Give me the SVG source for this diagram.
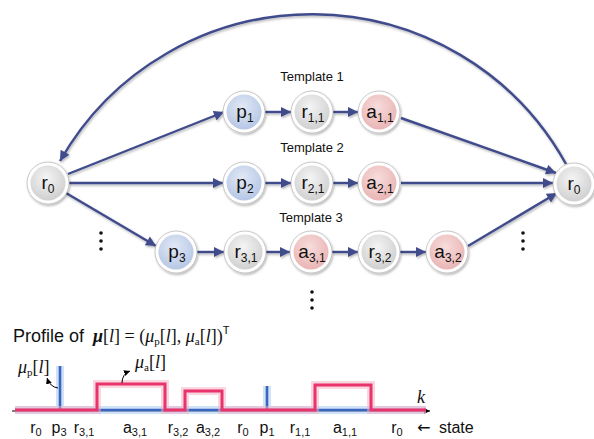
<svg xmlns="http://www.w3.org/2000/svg" width="594" height="439" viewBox="0 0 594 439">
<defs>
<radialGradient id="gGray" cx="0.45" cy="0.35" r="0.7">
<stop offset="0" stop-color="#F4F4F4"/><stop offset="1" stop-color="#CDCDCD"/></radialGradient>
<radialGradient id="gBlue" cx="0.45" cy="0.35" r="0.7">
<stop offset="0" stop-color="#E2E9F5"/><stop offset="1" stop-color="#B2C4E4"/></radialGradient>
<radialGradient id="gPink" cx="0.45" cy="0.35" r="0.7">
<stop offset="0" stop-color="#F8DCDC"/><stop offset="1" stop-color="#E8B2B2"/></radialGradient>
<filter id="sh" x="-20%" y="-20%" width="140%" height="140%">
<feDropShadow dx="1" dy="1.5" stdDeviation="1.2" flood-color="#000" flood-opacity="0.3"/></filter>
<marker id="ah" viewBox="0 0 10 10" refX="10" refY="5" markerWidth="11" markerHeight="10" markerUnits="userSpaceOnUse" orient="auto">
<path d="M0,0 L10,5 L0,10 Z" fill="#404B8C"/></marker>
<marker id="ak" viewBox="0 0 10 10" refX="10" refY="5" markerWidth="6" markerHeight="6" markerUnits="userSpaceOnUse" orient="auto">
<path d="M0,0 L10,5 L0,10 Z" fill="#000"/></marker>
</defs>
<style>
.e{fill:none;stroke:#404B8C;stroke-width:2.4;marker-end:url(#ah)}
.ring{fill:#fff;stroke:#BBBBBB;stroke-width:0.8}
.g{fill:url(#gGray)}.b{fill:url(#gBlue)}.p{fill:url(#gPink)}
.nt{font-family:"Liberation Sans",Arial,sans-serif;font-size:19px;fill:#111;text-anchor:middle}
.sub{font-size:12px}
.tl{font-family:"Liberation Sans",Arial,sans-serif;font-size:13px;fill:#111;text-anchor:middle}
.st{font-family:"Liberation Sans",Arial,sans-serif;font-size:16px;fill:#111;text-anchor:middle}
.ss{font-size:11px}
.m{font-family:"Liberation Serif","Times New Roman",serif;font-size:18px;fill:#111}
.dot{fill:#111}
</style>
<rect width="594" height="439" fill="#fff"/>

<g id="connectors" filter="url(#sh)">
<path class="e" d="M566 164 A290 290 0 0 0 60 161"/>
<path class="e" d="M68 174 L224 112"/>
<path class="e" d="M69 183 L223 183"/>
<path class="e" d="M66 193 L156 246"/>
<path class="e" d="M265 112 L291 112"/>
<path class="e" d="M333 112 L358 112"/>
<path class="e" d="M401 118 L556 173"/>
<path class="e" d="M265 183 L291 183"/>
<path class="e" d="M333 183 L358 183"/>
<path class="e" d="M401 183 L553 183"/>
<path class="e" d="M197 252 L224 252"/>
<path class="e" d="M266 252 L290 252"/>
<path class="e" d="M332 252 L358 252"/>
<path class="e" d="M400 252 L426 252"/>
<path class="e" d="M468 246 L557 193"/>
</g>

<g id="n_r0L"><circle class="ring" cx="48" cy="183" r="21" filter="url(#sh)"/><circle class="g" cx="48" cy="183" r="17.5"/><text class="nt" x="48" y="189">r<tspan class="sub" dy="4">0</tspan></text></g>
<g id="n_p1"><circle class="ring" cx="244" cy="112" r="21" filter="url(#sh)"/><circle class="b" cx="244" cy="112" r="17.5"/><text class="nt" x="245" y="118">p<tspan class="sub" dy="4">1</tspan></text></g>
<g id="n_r11"><circle class="ring" cx="312" cy="112" r="21" filter="url(#sh)"/><circle class="g" cx="312" cy="112" r="17.5"/><text class="nt" x="313" y="118">r<tspan class="sub" dy="4">1,1</tspan></text></g>
<g id="n_a11"><circle class="ring" cx="379" cy="112" r="21" filter="url(#sh)"/><circle class="p" cx="379" cy="112" r="17.5"/><text class="nt" x="380" y="118">a<tspan class="sub" dy="4">1,1</tspan></text></g>
<g id="n_p2"><circle class="ring" cx="244" cy="183" r="21" filter="url(#sh)"/><circle class="b" cx="244" cy="183" r="17.5"/><text class="nt" x="245" y="189">p<tspan class="sub" dy="4">2</tspan></text></g>
<g id="n_r21"><circle class="ring" cx="312" cy="183" r="21" filter="url(#sh)"/><circle class="g" cx="312" cy="183" r="17.5"/><text class="nt" x="313" y="189">r<tspan class="sub" dy="4">2,1</tspan></text></g>
<g id="n_a21"><circle class="ring" cx="379" cy="183" r="21" filter="url(#sh)"/><circle class="p" cx="379" cy="183" r="17.5"/><text class="nt" x="380" y="189">a<tspan class="sub" dy="4">2,1</tspan></text></g>
<g id="n_r0R"><circle class="ring" cx="574" cy="184" r="21" filter="url(#sh)"/><circle class="g" cx="574" cy="184" r="17.5"/><text class="nt" x="574" y="190">r<tspan class="sub" dy="4">0</tspan></text></g>
<g id="n_p3"><circle class="ring" cx="176" cy="252" r="21" filter="url(#sh)"/><circle class="b" cx="176" cy="252" r="17.5"/><text class="nt" x="177" y="258">p<tspan class="sub" dy="4">3</tspan></text></g>
<g id="n_r31"><circle class="ring" cx="245" cy="252" r="21" filter="url(#sh)"/><circle class="g" cx="245" cy="252" r="17.5"/><text class="nt" x="246" y="258">r<tspan class="sub" dy="4">3,1</tspan></text></g>
<g id="n_a31"><circle class="ring" cx="311" cy="252" r="21" filter="url(#sh)"/><circle class="p" cx="311" cy="252" r="17.5"/><text class="nt" x="312" y="258">a<tspan class="sub" dy="4">3,1</tspan></text></g>
<g id="n_r32"><circle class="ring" cx="379" cy="252" r="21" filter="url(#sh)"/><circle class="g" cx="379" cy="252" r="17.5"/><text class="nt" x="380" y="258">r<tspan class="sub" dy="4">3,2</tspan></text></g>
<g id="n_a32"><circle class="ring" cx="447" cy="252" r="21" filter="url(#sh)"/><circle class="p" cx="447" cy="252" r="17.5"/><text class="nt" x="448" y="258">a<tspan class="sub" dy="4">3,2</tspan></text></g>

<g id="labels">
<text class="tl" x="312" y="81">Template 1</text>
<text class="tl" x="312" y="152">Template 2</text>
<text class="tl" x="311" y="222">Template 3</text>
</g>
<g id="ellipses">
<circle class="dot" cx="101" cy="233" r="1.8"/><circle class="dot" cx="101" cy="241" r="1.8"/><circle class="dot" cx="101" cy="249" r="1.8"/>
<circle class="dot" cx="523" cy="233" r="1.8"/><circle class="dot" cx="523" cy="241" r="1.8"/><circle class="dot" cx="523" cy="249" r="1.8"/>
<circle class="dot" cx="312" cy="292" r="1.8"/><circle class="dot" cx="312" cy="300" r="1.8"/><circle class="dot" cx="312" cy="308" r="1.8"/>
</g>

<g id="profile">
<text x="13" y="342" font-family="Liberation Sans,Arial,sans-serif" font-size="18" fill="#111">Profile of</text>
<text class="m" x="93" y="342"><tspan font-weight="bold" font-style="italic">μ</tspan>[<tspan font-style="italic">l</tspan>] = (<tspan font-style="italic">μ</tspan><tspan font-size="11" dy="3">p</tspan><tspan dy="-3">[</tspan><tspan font-style="italic">l</tspan>], <tspan font-style="italic">μ</tspan><tspan font-size="11" dy="3">a</tspan><tspan dy="-3">[</tspan><tspan font-style="italic">l</tspan>])<tspan font-family="Liberation Sans,Arial,sans-serif" font-size="11" dy="-8">T</tspan></text>

<line x1="12" y1="411" x2="430" y2="411" stroke="#000" stroke-width="1" marker-end="url(#ak)"/>
<g fill="none" stroke-linejoin="miter">
<path d="M15 410 H426 M60 366 V410 M267 386 V410" stroke="#A9CBF2" stroke-opacity="0.55" stroke-width="8"/>
<path d="M15 410 H426 M60 366 V410 M267 386 V410" stroke="#3A64BE" stroke-width="2.6"/>
<path d="M15 410 H97 V384 H165 V410 H185 V391 H222 V410 H315 V385 H371 V410 H426" stroke="#F5AFC2" stroke-opacity="0.5" stroke-width="8"/>
<path d="M15 410 H97 V384 H165 V410 H185 V391 H222 V410 H315 V385 H371 V410 H426" stroke="#E8336B" stroke-width="3"/>
</g>
<text class="m" x="417" y="403" font-style="italic">k</text>

<text class="m" x="18" y="373"><tspan font-style="italic">μ</tspan><tspan font-size="11" dy="3">p</tspan><tspan dy="-3">[</tspan><tspan font-style="italic">l</tspan>]</text>
<text class="m" x="135" y="368"><tspan font-style="italic">μ</tspan><tspan font-size="11" dy="3">a</tspan><tspan dy="-3">[</tspan><tspan font-style="italic">l</tspan>]</text>
<path d="M58 388 Q50 387 47 378" fill="none" stroke="#000" stroke-width="1" marker-end="url(#ak)"/>
<path d="M122 383 Q122 374 130 371" fill="none" stroke="#000" stroke-width="1" marker-end="url(#ak)"/>

<text class="st" x="36" y="433">r<tspan class="ss" dy="3">0</tspan></text>
<text class="st" x="59" y="433">p<tspan class="ss" dy="3">3</tspan></text>
<text class="st" x="84" y="433">r<tspan class="ss" dy="3">3,1</tspan></text>
<text class="st" x="135" y="433">a<tspan class="ss" dy="3">3,1</tspan></text>
<text class="st" x="178" y="433">r<tspan class="ss" dy="3">3,2</tspan></text>
<text class="st" x="208" y="433">a<tspan class="ss" dy="3">3,2</tspan></text>
<text class="st" x="243" y="433">r<tspan class="ss" dy="3">0</tspan></text>
<text class="st" x="267" y="433">p<tspan class="ss" dy="3">1</tspan></text>
<text class="st" x="300" y="433">r<tspan class="ss" dy="3">1,1</tspan></text>
<text class="st" x="345" y="433">a<tspan class="ss" dy="3">1,1</tspan></text>
<text class="st" x="397" y="433">r<tspan class="ss" dy="3">0</tspan></text>
<text x="417" y="433" font-family="DejaVu Sans,sans-serif" font-size="16" fill="#111">←</text>
<text x="439" y="433" font-family="Liberation Sans,Arial,sans-serif" font-size="16" fill="#111">state</text>
</g>
</svg>
